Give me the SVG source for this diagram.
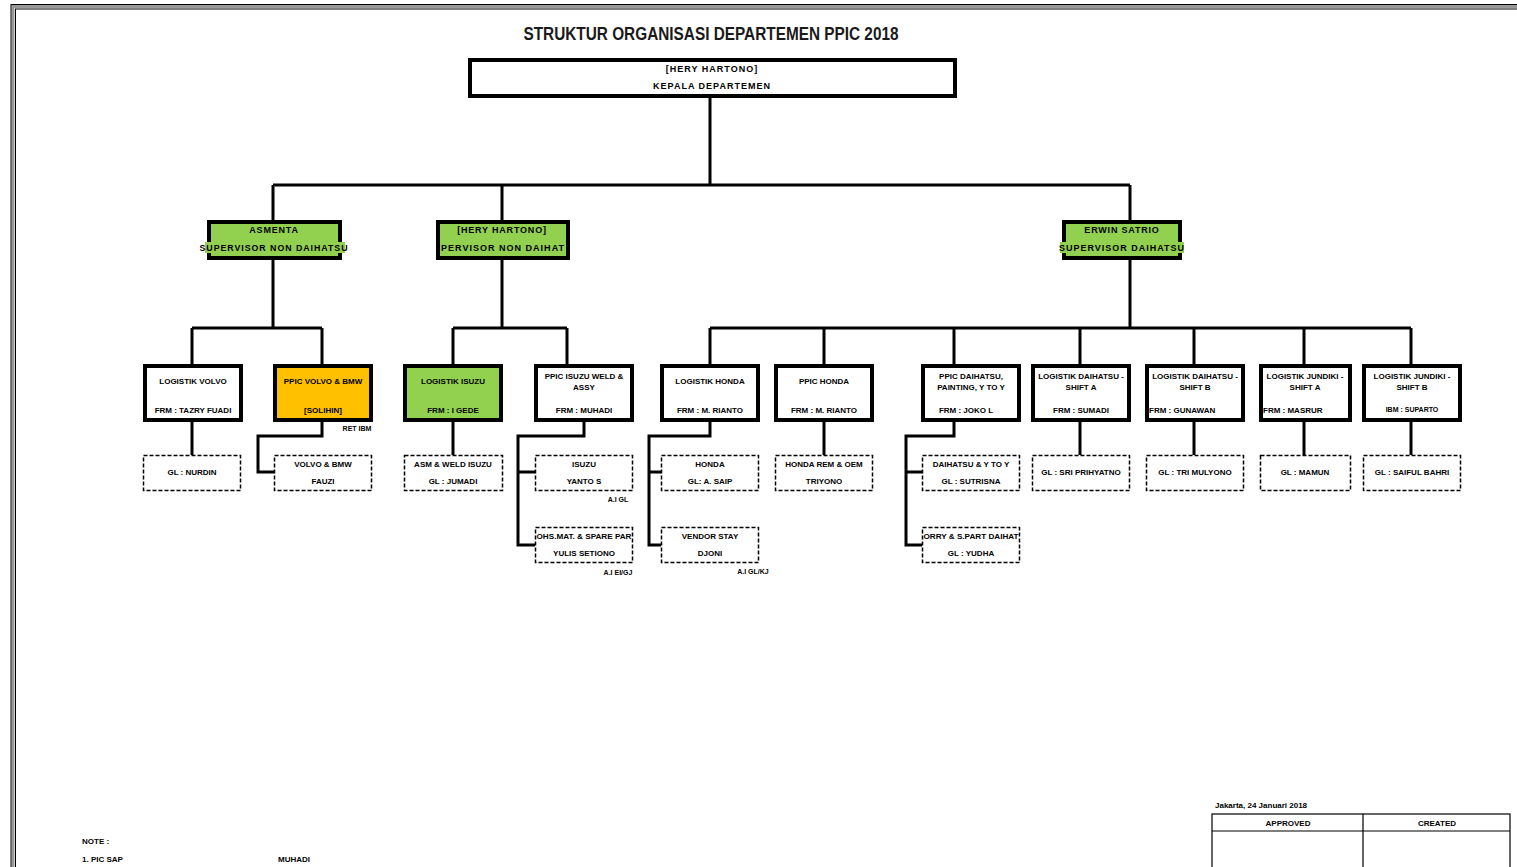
<svg xmlns="http://www.w3.org/2000/svg" width="1517" height="867" viewBox="0 0 1517 867">
<style>
text{font-family:"Liberation Sans","DejaVu Sans",Arial,sans-serif;font-weight:bold;fill:#000;text-anchor:middle}
.t{font-size:8px}
.h{font-size:9px;letter-spacing:1px}
.s{font-size:7px}
.l{text-anchor:start}
.box{fill:#fff;stroke:#000;stroke-width:4}
.grn{fill:#92D050}
.org{fill:#FFC000}
.dash{fill:#fff;stroke:#000;stroke-width:1.5;stroke-dasharray:4 2}
#connectors path{fill:none;stroke:#000;stroke-width:3}
</style>
<rect width="1517" height="867" fill="#fff"/>
<g id="frame" fill="none">
<rect x="13" y="6.5" width="1520" height="880" stroke="#999" stroke-width="3"/>
<rect x="11" y="4.5" width="1524" height="884" stroke="#000" stroke-width="1"/>
<rect x="15.5" y="9" width="1516" height="876" stroke="#000" stroke-width="1"/>
</g>
<text x="711" y="40" style="font-size:18px;fill:#1a1a1a" textLength="375" lengthAdjust="spacingAndGlyphs">STRUKTUR ORGANISASI DEPARTEMEN PPIC 2018</text>
<g id="connectors">
<path d="M710 97V185M273 185H1130M273 185V222M502 185V222M1130 185V222"/>
<path d="M273 259V328M192 328H322M192 328V364M322 328V364"/>
<path d="M502 259V328M453 328H567M453 328V364M567 328V364"/>
<path d="M1130 259V328M710 328H1411M710 328V364M824 328V364M954 328V364M1080 328V364M1194 328V364M1304 328V364M1411 328V364"/>
<path d="M192 421V455M322 421V436H258V472H274M453 421V455"/>
<path d="M584 421V436H518V545H535M518 472H535"/>
<path d="M710 421V436H649V545H661M649 472H661M824 421V455"/>
<path d="M954 421V436H906V545H922M906 472H922"/>
<path d="M1080 421V455M1194 421V455M1304 421V455M1411 421V455"/>
</g>
<g id="head">
<rect class="box" x="470" y="60" width="485" height="36"/>
<text class="h" x="712" y="72">[HERY HARTONO]</text>
<text class="h" x="712" y="89">KEPALA DEPARTEMEN</text>
</g>
<g id="sup1">
<rect class="box grn" x="209" y="222" width="131" height="36"/>
<rect class="grn" x="205" y="242" width="140" height="11"/>
<text class="h" x="274" y="233" style="letter-spacing:0.8px">ASMENTA</text>
<text class="h" x="274" y="251" textLength="149" lengthAdjust="spacingAndGlyphs">SUPERVISOR NON DAIHATSU</text>
</g>
<g id="sup2">
<rect class="box grn" x="438" y="222" width="130" height="36"/>
<text class="h" x="502" y="233" style="letter-spacing:0.8px">[HERY HARTONO]</text>
<text class="h" x="503" y="251" textLength="124" lengthAdjust="spacingAndGlyphs">PERVISOR NON DAIHAT</text>
</g>
<g id="sup3">
<rect class="box grn" x="1064" y="222" width="116" height="36"/>
<rect class="grn" x="1060" y="242" width="124" height="11"/>
<text class="h" x="1122" y="233" style="letter-spacing:0.8px">ERWIN SATRIO</text>
<text class="h" x="1122" y="251" textLength="126" lengthAdjust="spacingAndGlyphs">SUPERVISOR DAIHATSU</text>
</g>
<g id="n1"><rect class="box" x="145" y="366" width="96" height="54"/>
<text class="t" x="193" y="384">LOGISTIK VOLVO</text><text class="t" x="193" y="413">FRM : TAZRY FUADI</text></g>
<g id="n2"><rect class="box org" x="275" y="366" width="96" height="54"/>
<text class="t" x="323" y="384">PPIC VOLVO &amp; BMW</text><text class="t" x="323" y="413">[SOLIHIN]</text>
<text class="s" x="357" y="431">RET IBM</text></g>
<g id="n3"><rect class="box grn" x="405" y="366" width="96" height="54"/>
<text class="t" x="453" y="384">LOGISTIK ISUZU</text><text class="t" x="453" y="413">FRM : I GEDE</text></g>
<g id="n4"><rect class="box" x="536" y="366" width="96" height="54"/>
<text class="t" x="584" y="379">PPIC ISUZU WELD &amp;</text><text class="t" x="584" y="390">ASSY</text><text class="t" x="584" y="413">FRM : MUHADI</text></g>
<g id="n5"><rect class="box" x="662" y="366" width="96" height="54"/>
<text class="t" x="710" y="384">LOGISTIK HONDA</text><text class="t" x="710" y="413">FRM : M. RIANTO</text></g>
<g id="n6"><rect class="box" x="776" y="366" width="96" height="54"/>
<text class="t" x="824" y="384">PPIC HONDA</text><text class="t" x="824" y="413">FRM : M. RIANTO</text></g>
<g id="n7"><rect class="box" x="923" y="366" width="96" height="54"/>
<text class="t" x="971" y="379">PPIC DAIHATSU,</text><text class="t" x="971" y="390">PAINTING, Y TO Y</text><text class="t" x="966" y="413">FRM : JOKO L</text></g>
<g id="n8"><rect class="box" x="1033" y="366" width="96" height="54"/>
<text class="t" x="1081" y="379">LOGISTIK DAIHATSU -</text><text class="t" x="1081" y="390">SHIFT A</text><text class="t" x="1081" y="413">FRM : SUMADI</text></g>
<g id="n9"><rect class="box" x="1147" y="366" width="96" height="54"/>
<text class="t" x="1195" y="379">LOGISTIK DAIHATSU -</text><text class="t" x="1195" y="390">SHIFT B</text><text class="t l" x="1149" y="413">FRM : GUNAWAN</text></g>
<g id="n10"><rect class="box" x="1261" y="366" width="89" height="54"/>
<text class="t" x="1305" y="379">LOGISTIK JUNDIKI -</text><text class="t" x="1305" y="390">SHIFT A</text><text class="t l" x="1263" y="413">FRM : MASRUR</text></g>
<g id="n11"><rect class="box" x="1364" y="366" width="96" height="54"/>
<text class="t" x="1412" y="379">LOGISTIK JUNDIKI -</text><text class="t" x="1412" y="390">SHIFT B</text><text class="s" x="1412" y="412">IBM : SUPARTO</text></g>
<g id="d1"><rect class="dash" x="143.5" y="455.5" width="97" height="35"/>
<text class="t" x="192" y="475">GL : NURDIN</text></g>
<g id="d2"><rect class="dash" x="274.5" y="455.5" width="97" height="35"/>
<text class="t" x="323" y="467">VOLVO &amp; BMW</text><text class="t" x="323" y="484">FAUZI</text></g>
<g id="d3"><rect class="dash" x="404.5" y="455.5" width="98" height="35"/>
<text class="t" x="453" y="467">ASM &amp; WELD ISUZU</text><text class="t" x="453" y="484">GL : JUMADI</text></g>
<g id="d4"><rect class="dash org" x="535.5" y="455.5" width="97" height="35"/>
<text class="t" x="584" y="467">ISUZU</text><text class="t" x="584" y="484">YANTO S</text>
<text class="s" x="618" y="502">A.I GL</text></g>
<g id="d5"><rect class="dash org" x="535.5" y="527.5" width="97" height="35"/>
<text class="t" x="584" y="539" textLength="95" lengthAdjust="spacingAndGlyphs">OHS.MAT. &amp; SPARE PAR</text><text class="t" x="584" y="556">YULIS SETIONO</text>
<text class="s" x="618" y="575">A.I EI/GJ</text></g>
<g id="d6"><rect class="dash" x="661.5" y="455.5" width="97" height="35"/>
<text class="t" x="710" y="467">HONDA</text><text class="t" x="710" y="484">GL: A. SAIP</text></g>
<g id="d7"><rect class="dash org" x="661.5" y="527.5" width="97" height="35"/>
<text class="t" x="710" y="539">VENDOR STAY</text><text class="t" x="710" y="556">DJONI</text>
<text class="s" x="753" y="574">A.I GL/KJ</text></g>
<g id="d8"><rect class="dash" x="775.5" y="455.5" width="97" height="35"/>
<text class="t" x="824" y="467">HONDA REM &amp; OEM</text><text class="t" x="824" y="484">TRIYONO</text></g>
<g id="d9"><rect class="dash" x="922.5" y="455.5" width="97" height="35"/>
<text class="t" x="971" y="467">DAIHATSU &amp; Y TO Y</text><text class="t" x="971" y="484">GL : SUTRISNA</text></g>
<g id="d10"><rect class="dash" x="922.5" y="527.5" width="97" height="35"/>
<text class="t" x="971" y="539" textLength="95" lengthAdjust="spacingAndGlyphs">ORRY &amp; S.PART DAIHAT</text><text class="t" x="971" y="556">GL : YUDHA</text></g>
<g id="d11"><rect class="dash" x="1032.5" y="455.5" width="97" height="35"/>
<text class="t" x="1081" y="475">GL : SRI PRIHYATNO</text></g>
<g id="d12"><rect class="dash" x="1146.5" y="455.5" width="97" height="35"/>
<text class="t" x="1195" y="475">GL : TRI MULYONO</text></g>
<g id="d13"><rect class="dash" x="1260.5" y="455.5" width="90" height="35"/>
<text class="t" x="1305" y="475">GL : MAMUN</text></g>
<g id="d14"><rect class="dash" x="1363.5" y="455.5" width="97" height="35"/>
<text class="t" x="1412" y="475">GL : SAIFUL BAHRI</text></g>
<g id="notes">
<text class="t l" x="82" y="844">NOTE :</text>
<text class="t l" x="82" y="862">1. PIC SAP</text>
<text class="t l" x="278" y="862">MUHADI</text>
</g>
<g id="sign">
<text class="t l" x="1215" y="808">Jakarta, 24 Januari 2018</text>
<rect x="1212" y="814" width="298" height="70" fill="none" stroke="#000" stroke-width="1.2"/>
<path d="M1212 831H1510M1363 814V884" stroke="#000" stroke-width="1.2" fill="none"/>
<text class="t" x="1288" y="826">APPROVED</text>
<text class="t" x="1437" y="826">CREATED</text>
</g>
</svg>
